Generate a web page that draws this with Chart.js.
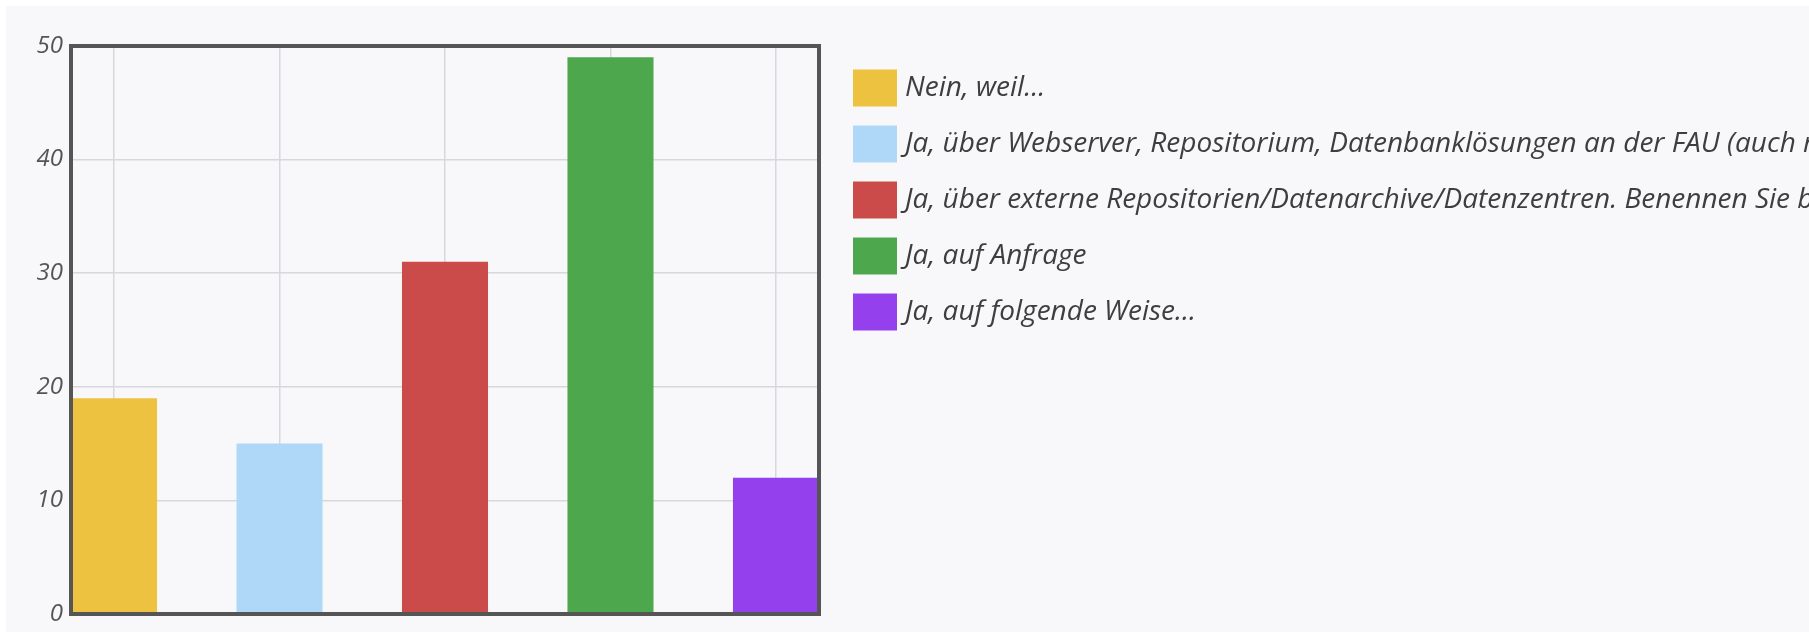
<!DOCTYPE html>
<html>
<head>
<meta charset="utf-8">
<script src="https://cdn.jsdelivr.net/npm/chart.js@4"></script>
<style>
    html, body { margin: 0; padding: 0; background: #ffffff; overflow: hidden; }
    #wrap { position: absolute; left: 6px; top: 6px; width: 1803px; height: 626px; background: #f8f8fa; }
    canvas { display: block; }
</style>
</head>
<body>
<div id="wrap"><canvas id="chart" width="1803" height="626"></canvas></div>
<script>
const categories = [
    'Nein, weil...',
    'Ja, über Webserver, Repositorium, Datenbanklösungen an der FAU (auch mit Zugangsbeschränkung)',
    'Ja, über externe Repositorien/Datenarchive/Datenzentren. Benennen Sie bitte die Repositorien:',
    'Ja, auf Anfrage',
    'Ja, auf folgende Weise...'
];
const counts = [19, 15, 31, 49, 12];
const colors = ['#edc240', '#afd8f8', '#cb4b4b', '#4da74d', '#9440ed'];
const yTicks = [0, 10, 20, 30, 40, 50];

const BAR = 0.52;
const gridColor = '#d8d8dc';
const tickFont = { family: "'Open Sans'", size: 24, style: 'italic' };
const legendFont = { family: "'Open Sans'", size: 28, style: 'italic' };

// thick frame around the plot, drawn on top of the bars
const frame = {
    id: 'frame',
    afterDraw(chart) {
        const {ctx, chartArea: a} = chart;
        ctx.save();
        ctx.lineWidth = 4;
        ctx.strokeStyle = '#555555';
        ctx.strokeRect(a.left, a.top, a.right - a.left, a.bottom - a.top);
        ctx.restore();
    }
};

new Chart(document.getElementById('chart'), {
    type: 'bar',
    data: {
        datasets: [{
            data: counts.map((v, i) => ({x: i, y: v})),
            backgroundColor: colors,
            borderWidth: 0,
            barPercentage: BAR,
            categoryPercentage: 1
        }]
    },
    options: {
        responsive: false,
        animation: false,
        devicePixelRatio: 1,
        layout: { padding: { top: 40, left: 0, right: 0, bottom: 0 } },
        scales: {
            x: {
                type: 'linear',
                min: -BAR / 2,
                max: categories.length - 1 + BAR / 2,
                offset: false,
                grid: { offset: false, color: gridColor, lineWidth: 1.5, drawTicks: false },
                border: { display: false },
                ticks: { display: false, stepSize: 1, includeBounds: false },
                afterFit(s) { s.height = 18; }
            },
            y: {
                min: 0,
                max: 50,
                grid: { color: gridColor, lineWidth: 1.5, drawTicks: false },
                border: { display: false },
                ticks: { color: '#555555', font: tickFont, padding: 8, stepSize: 10 },
                afterBuildTicks(s) { s.ticks = yTicks.map(v => ({value: v})); },
                afterFit(s) {
                    s.width = 65;
                    s.paddingTop = 0;
                    s.paddingBottom = 0;
                }
            },
            gap: {
                type: 'linear',
                position: 'right',
                grid: { display: false },
                border: { display: false },
                ticks: { display: false },
                afterFit(s) { s.width = 12; }
            }
        },
        plugins: {
            tooltip: { enabled: false },
            legend: {
                position: 'right',
                align: 'start',
                maxWidth: 978,
                labels: {
                    boxWidth: 32,
                    boxHeight: 25,
                    padding: 28,
                    color: '#3e3e3e',
                    font: legendFont,
                    generateLabels: () => categories.map((c, i) => ({
                        text: c,
                        fillStyle: colors[i],
                        strokeStyle: colors[i],
                        lineWidth: 12,
                        fontColor: '#3e3e3e',
                        hidden: false,
                        index: i
                    }))
                }
            }
        }
    },
    plugins: [frame]
});
</script>
</body>
</html>
